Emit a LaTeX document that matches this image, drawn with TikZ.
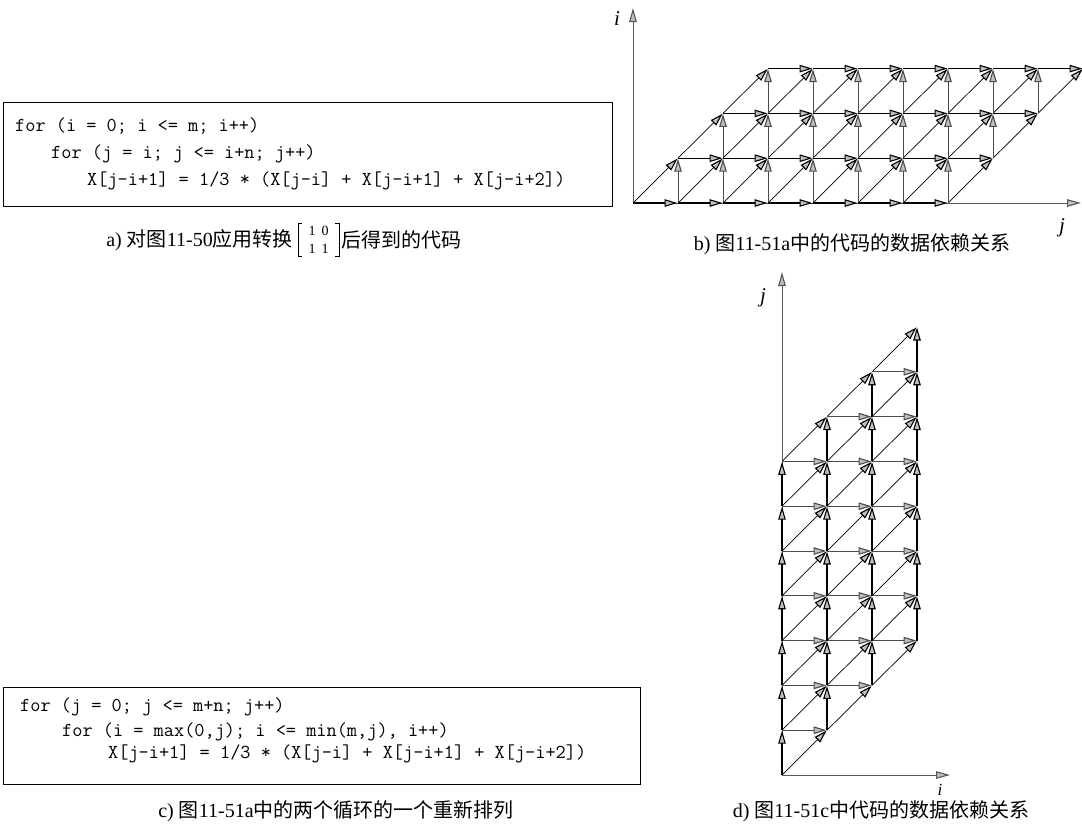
\documentclass[tikz,border=0pt]{standalone}
\usepackage{fontspec}
\setmainfont{Liberation Serif}
\newfontfamily\cjk{Noto Sans CJK SC}
\usetikzlibrary{arrows.meta}
\begin{document}
\begin{tikzpicture}[x=1pt,y=-1pt,
  tipd/.tip={Triangle[length=13pt,width=7.5pt,fill=gray!50,line width=1.1pt]},
  hdep/.style={-tipd, line width=1.2pt, shorten >=0.5pt},
  vdep/.style={-tipd, line width=1.0pt, draw=black!70, shorten >=0.5pt},
  ddep/.style={-tipd, line width=0.7pt, shorten >=0.5pt},
  axisline/.style={line width=0.9pt, draw=black!65, -{Triangle[length=14pt,width=7.5pt,fill=gray!50,line width=1.1pt]}},
  codebox/.style={draw, line width=1.2pt, anchor=north west, inner sep=0},
  codeline/.style={font=\ttfamily\fontsize{19.75}{24}\selectfont, anchor=base west, inner sep=0},
  captext/.style={font=\fontsize{20}{24}\selectfont, inner sep=0},
  mdigit/.style={font=\fontsize{14}{15}\selectfont, inner sep=0},
  axlabel/.style={font=\itshape\fontsize{21}{24}\selectfont, inner sep=0}
]
\useasboundingbox (0,0) rectangle (1082,825);

% ---------- panel a ----------
\node[codebox, minimum width=609pt, minimum height=104pt] (boxa) at (3,102) {};
\node[codeline] (a1) at (15,131) {for (i = 0; i <= m; i++)};
\node[codeline] (a2) at (51,158) {for (j = i; j <= i+n; j++)};
\node[codeline] (a3) at (87,185) {X[j-i+1] = 1/3 * (X[j-i] + X[j-i+1] + X[j-i+2])};
\node[captext, anchor=east] (capa1) at (293,240) {a) {\cjk 对图}11-50{\cjk 应用转换}};
\node[mdigit] (m11) at (312,231) {1};
\node[mdigit] (m12) at (325,231) {0};
\node[mdigit] (m21) at (312,249) {1};
\node[mdigit] (m22) at (325,249) {1};
\draw[line width=1pt] (302,223) -- (298,223) -- (298,256) -- (302,256);
\draw[line width=1pt] (335,223) -- (339,223) -- (339,256) -- (335,256);
\node[captext, anchor=west] (capa2) at (341,240) {{\cjk 后得到的代码}};

% ---------- panel c ----------
\node[codebox, minimum width=637pt, minimum height=97pt] (boxc) at (3,687) {};
\node[codeline] (c1) at (20,711) {for (j = 0; j <= m+n; j++)};
\node[codeline] (c2) at (62,736) {for (i = max(0,j); i <= min(m,j), i++)};
\node[codeline] (c3) at (108,758) {X[j-i+1] = 1/3 * (X[j-i] + X[j-i+1] + X[j-i+2])};
\node[captext] (capc) at (336,811) {c) {\cjk 图}11-51a{\cjk 中的两个循环的一个重新排列}};

% ---------- panel b ----------
\coordinate (bO) at (633,203);
\coordinate (bI) at (633,8);
\coordinate (bJ) at (1081,203);
\draw[axisline] (bO) -- (bI);
\draw[axisline] (bO) -- (bJ);
\node[axlabel] (bi) at (617,19) {i};
\node[axlabel] (bj) at (1062,228) {j};
\foreach \i in {0,...,3}
  \foreach \k in {0,...,7} {
    \pgfmathtruncatemacro\j{\i+\k}
    \coordinate (b-\i-\j) at ({633+45*\j},{203-44.8*\i});
  }
\foreach \i in {0,...,2}
  \foreach \k in {0,...,7} {
    \pgfmathtruncatemacro\j{\i+\k}
    \pgfmathtruncatemacro\ii{\i+1}
    \pgfmathtruncatemacro\jj{\j+1}
    \draw[ddep] (b-\i-\j) -- (b-\ii-\jj);
    \ifnum\k>0 \draw[vdep] (b-\i-\j) -- (b-\ii-\j); \fi
  }
\foreach \i in {0,...,3}
  \foreach \k in {0,...,6} {
    \pgfmathtruncatemacro\j{\i+\k}
    \pgfmathtruncatemacro\jj{\j+1}
    \draw[hdep] (b-\i-\j) -- (b-\i-\jj);
  }
\node[captext] (capb) at (852,244) {b) {\cjk 图}11-51a{\cjk 中的代码的数据依赖关系}};

% ---------- panel d ----------
\coordinate (dO) at (782,775);
\coordinate (dJ) at (782,272);
\coordinate (dI) at (950,775);
\draw[axisline] (dO) -- (dJ);
\draw[axisline] (dO) -- (dI);
\node[axlabel] (dj) at (763,298) {j};
\node[axlabel, font=\itshape\fontsize{17}{18}\selectfont] (di) at (940,790) {i};
\foreach \i in {0,...,3}
  \foreach \k in {0,...,7} {
    \pgfmathtruncatemacro\j{\i+\k}
    \coordinate (d-\i-\j) at ({782+45*\i},{775-44.8*\j});
  }
\foreach \i in {0,...,2}
  \foreach \k in {0,...,7} {
    \pgfmathtruncatemacro\j{\i+\k}
    \pgfmathtruncatemacro\ii{\i+1}
    \pgfmathtruncatemacro\jj{\j+1}
    \draw[ddep] (d-\i-\j) -- (d-\ii-\jj);
    \ifnum\k>0 \draw[vdep] (d-\i-\j) -- (d-\ii-\j); \fi
  }
\foreach \i in {0,...,3}
  \foreach \k in {0,...,6} {
    \pgfmathtruncatemacro\j{\i+\k}
    \pgfmathtruncatemacro\jj{\j+1}
    \draw[hdep] (d-\i-\j) -- (d-\i-\jj);
  }
\node[captext] (capd) at (881,811) {d) {\cjk 图}11-51c{\cjk 中代码的数据依赖关系}};
\end{tikzpicture}
\end{document}
